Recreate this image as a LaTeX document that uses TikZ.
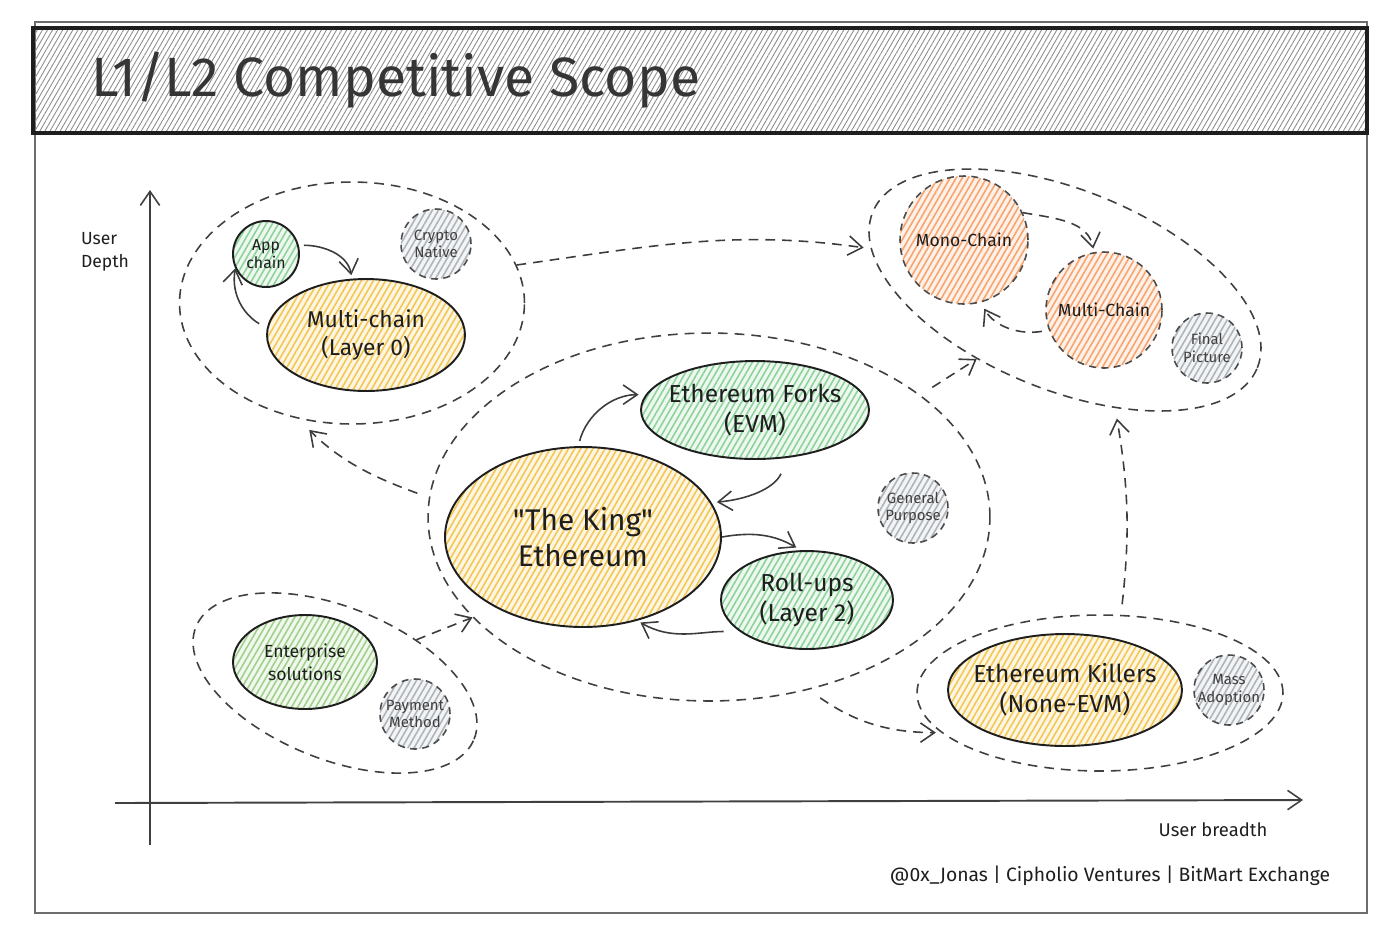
\documentclass[tikz,border=0pt]{standalone}
\usepackage{fontspec}
\setmainfont{Fira Sans}[Ligatures=TeXOff]
\usetikzlibrary{shapes.geometric,patterns.meta,arrows.meta}

\definecolor{ink}{HTML}{1E1E1E}
\definecolor{wire}{HTML}{3C3C3C}
\definecolor{yell}{HTML}{F4C652}
\definecolor{grn}{HTML}{8CD39A}
\definecolor{orng}{HTML}{F7A46E}
\definecolor{gry}{HTML}{AEB4BA}

\begin{document}
\begin{tikzpicture}[x=0.02cm,y=0.02cm,>={Straight Barb[length=8pt,width=11pt,line width=0.9pt]},
  hatch/.style={preaction={fill=#1!15}, pattern={Lines[angle=60,distance=3pt,line width=0.9pt]}, pattern color=#1},
  blob/.style={ellipse, draw=ink, line width=1.1pt, align=center, inner sep=0pt, text=ink},
  tag/.style={circle, draw=ink!80, dash pattern=on 4pt off 3pt, line width=0.9pt, hatch=gry,
    minimum size=1.4cm, inner sep=-3pt, align=center, text=ink!85, font=\fontsize{8.5}{10}\selectfont},
  zone/.style={ellipse, draw=ink!85, line width=0.9pt, dash pattern=on 5.5pt off 4pt, inner sep=0pt},
  flow/.style={->, draw=wire, line width=0.9pt},
  jump/.style={->, draw=wire, line width=0.9pt, dash pattern=on 5.5pt off 4pt}]
\useasboundingbox (0,0) rectangle (1400,-938);

% frame and title
\draw[ink!65, line width=0.8pt] (35,-22) rectangle (1367,-913);
\path[pattern={Lines[angle=60,distance=2.5pt,line width=0.5pt]}, pattern color=black!45] (33,-28) rectangle (1367,-133);
\draw[ink, line width=1.8pt] (33,-28) rectangle (1367,-133);
\node[anchor=west, text=ink!90, font=\fontsize{31.5}{36}\selectfont] (title) at (85,-80) {L1/L2 Competitive Scope};

% axes
\coordinate (ybot) at (150,-845);
\coordinate (ytop) at (150,-190);
\coordinate (xlft) at (115,-803);
\coordinate (xrgt) at (1303,-800);
\draw[->, ink!85, line width=1.1pt] (ybot) -- (ytop);
\draw[->, ink!85, line width=1.1pt] (xlft) -- (xrgt);
\node[align=left, text=ink, font=\fontsize{10}{13}\selectfont] (ylab) at (105,-252) {User\\Depth};
\node[text=ink, font=\fontsize{10.5}{13}\selectfont] (xlab) at (1213,-830) {User breadth};
\node[text=ink, font=\fontsize{11}{13}\selectfont] (credit) at (1110,-876) {@0x\_Jonas | Cipholio Ventures | BitMart Exchange};

% crypto native
\node[zone, minimum width=6.9cm, minimum height=4.84cm] (zA) at (352,-303) {};
\node[blob, circle, hatch=grn, minimum size=1.32cm, font=\fontsize{9}{10}\selectfont] (app) at (266,-254) {App\\chain};
\node[tag] (crypto) at (436,-244) {Crypto\\Native};
\node[blob, hatch=yell, minimum width=3.96cm, minimum height=2.24cm, font=\fontsize{13}{16}\selectfont] (multi) at (366,-335) {Multi-chain\\(Layer 0)};

% final picture
\node[zone, rotate=-22, minimum width=8.3cm, minimum height=4cm] (zB) at (1065,-290) {};
\node[circle, draw=ink!80, dash pattern=on 4pt off 3pt, line width=0.9pt, hatch=orng, minimum size=2.56cm, inner sep=0pt,
  text=ink, font=\fontsize{10}{12}\selectfont] (mono) at (964,-240) {Mono-Chain};
\node[circle, draw=ink!80, dash pattern=on 4pt off 3pt, line width=0.9pt, hatch=orng, minimum size=2.32cm, inner sep=0pt,
  text=ink, font=\fontsize{10}{12}\selectfont] (multic) at (1104,-310) {Multi-Chain};
\node[tag] (final) at (1207,-348) {Final\\Picture};

% general purpose
\node[zone, minimum width=11.24cm, minimum height=7.36cm] (zC) at (709,-517) {};
\node[blob, hatch=yell, minimum width=5.52cm, minimum height=3.6cm, font=\fontsize{17}{21}\selectfont] (king) at (583,-537) {"The King"\\Ethereum};
\node[blob, hatch=grn, minimum width=4.56cm, minimum height=1.96cm, inner xsep=-14pt, font=\fontsize{14}{17}\selectfont] (forks) at (755,-410) {Ethereum Forks\\(EVM)};
\node[blob, hatch=grn, minimum width=3.44cm, minimum height=1.96cm, font=\fontsize{14}{17}\selectfont] (rollups) at (807,-600) {Roll-ups\\(Layer 2)};
\node[tag] (general) at (913,-508) {General\\Purpose};

% payment method
\node[zone, rotate=-22, minimum width=6cm, minimum height=3.04cm] (zD) at (335,-683) {};
\node[blob, hatch=grn!80!yell, minimum width=2.88cm, minimum height=1.88cm, font=\fontsize{10}{13}\selectfont] (enter) at (305,-662) {Enterprise\\solutions};
\node[tag] (payment) at (415,-714) {Payment\\Method};

% mass adoption
\node[zone, minimum width=7.32cm, minimum height=3.12cm] (zE) at (1100,-693) {};
\node[blob, hatch=yell, minimum width=4.68cm, minimum height=2.24cm, inner xsep=-16pt, font=\fontsize{14}{17}\selectfont] (killers) at (1065,-690) {Ethereum Killers\\(None-EVM)};
\node[tag] (mass) at (1229,-690) {Mass\\Adoption};

% inside the groups
\draw[flow, shorten <=3pt, shorten >=2pt] (app.15) to[out=0,in=100] (multi.104);
\draw[flow, shorten <=5pt] (multi.176) to[out=150,in=-100] (app.205);
\draw[flow, shorten <=3pt, shorten >=4pt] (king.93) to[out=75,in=180] (forks.172);
\draw[flow, shorten <=10pt, shorten >=3pt] (forks.-55) to[out=-115,in=5] (king.15);
\draw[flow, shorten >=3pt] (king.east) to[out=10,in=150] (rollups.97);
\draw[flow, shorten <=9pt, shorten >=2pt] (rollups.205) to[out=180,in=-30] (king.-57);
\draw[jump, shorten >=2pt] (mono.25) to[out=-10,in=100] (multic.100);
\draw[jump, shorten <=4pt, shorten >=4pt] (multic.200) to[out=190,in=-60] (mono.-75);

% between the groups
\draw[jump, shorten >=4pt] (zA.13) to[out=8,in=172] (zB.190);
\draw[jump, shorten <=7pt, shorten >=9pt] (zC.176) to[out=160,in=-45] (zA.245);
\draw[jump, shorten <=8pt] (zC.30) -- (zB.240);
\draw[jump] (zD.50) -- (zC.203);
\draw[jump, shorten <=8pt, shorten >=3pt] (zC.-60) to[out=-35,in=180] (zE.194);
\draw[jump, shorten <=6pt, shorten >=6pt] (zE.75) to[bend right=8] (zB.315);
\end{tikzpicture}
\end{document}
